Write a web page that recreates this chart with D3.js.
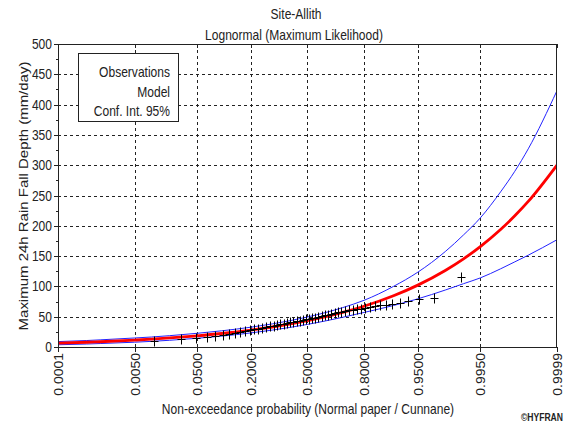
<!DOCTYPE html>
<html><head><meta charset="utf-8">
<script src="https://cdn.jsdelivr.net/npm/d3@7"></script>
<style>
html,body{margin:0;padding:0;background:#fff;}
svg text{font-family:"Liberation Sans",Arial,sans-serif;fill:#222;}
</style></head>
<body><svg id="c" width="568" height="423"></svg>
<script>
// ---- data ----
const title1 = "Site-Allith";
const title2 = "Lognormal (Maximum Likelihood)";
const xTitle = "Non-exceedance probability (Normal paper / Cunnane)";
const yTitle = "Maximum 24h Rain Fall Depth (mm/day)";
const legendItems = ["Observations", "Model", "Conf. Int. 95%"];
const probTicks = [0.0001, 0.005, 0.05, 0.2, 0.5, 0.8, 0.95, 0.995, 0.9999];
const probTickLabels = ["0.0001","0.0050","0.0500","0.2000","0.5000","0.8000","0.9500","0.9950","0.9999"];
const yTicks = [0,50,100,150,200,250,300,350,400,450,500];
// curve probabilities and values
const curveProb = [0.0001,0.0005,0.001,0.005,0.01,0.02,0.05,0.1,0.2,0.3,0.5,0.7,0.8,0.9,0.95,0.98,0.99,0.995,0.998,0.999,0.9995,0.9999];
const modelQ  = [6.3,7.8,8.7,11.4,12.9,14.9,18.5,22.3,28.0,33.0,43.4,57.0,67.2,84.5,102.1,126.3,145.5,165.7,193.9,216.5,240.2,300.2];
const lowerQ  = [3.7,4.9,5.7,7.9,9.3,11.1,14.4,17.9,23.3,27.9,37.3,49.0,57.0,68.5,79.5,94.0,104.5,114.0,129.0,140.5,151.5,177.0];
const upperQ  = [8.9,10.7,11.8,14.9,16.5,18.7,22.6,26.7,32.7,38.1,49.5,65.0,77.0,100.0,123.5,157.5,185.0,213.0,256.0,290.0,327.0,423.0];
// observations (sorted), plotted with Cunnane positions
const observations = [10,12.5,14.5,16,18,20,21.5,23,24.5,26,27.5,29,30.5,31.5,33,34,35,36,37.5,38.5,
  39.5,40.5,41.5,42.5,43.5,44.5,45.5,46.5,47.5,48.5,49.5,50.5,52,53,54.5,56,57,58.5,59.5,60.5,
  61.5,62.5,63.5,65,66,67,68.5,70,71,73,76,79,81,115];

// ---- helpers ----
function probit(p){ // Acklam inverse normal
  const a=[-3.969683028665376e+01,2.209460984245205e+02,-2.759285104469687e+02,1.383577518672690e+02,-3.066479806614716e+01,2.506628277459239e+00];
  const b=[-5.447609879822406e+01,1.615858368580409e+02,-1.556989798598866e+02,6.680131188771972e+01,-1.328068155288572e+01];
  const c=[-7.784894002430293e-03,-3.223964580411365e-01,-2.400758277161838e+00,-2.549732539343734e+00,4.374664141464968e+00,2.938163982698783e+00];
  const d=[7.784695709041462e-03,3.224671290700398e-01,2.445134137142996e+00,3.754408661907416e+00];
  const pl=0.02425, ph=1-pl; let q,r;
  if(p<pl){q=Math.sqrt(-2*Math.log(p));return (((((c[0]*q+c[1])*q+c[2])*q+c[3])*q+c[4])*q+c[5])/((((d[0]*q+d[1])*q+d[2])*q+d[3])*q+1);}
  if(p<=ph){q=p-0.5;r=q*q;return (((((a[0]*r+a[1])*r+a[2])*r+a[3])*r+a[4])*r+a[5])*q/(((((b[0]*r+b[1])*r+b[2])*r+b[3])*r+b[4])*r+1);}
  q=Math.sqrt(-2*Math.log(1-p));return -(((((c[0]*q+c[1])*q+c[2])*q+c[3])*q+c[4])*q+c[5])/((((d[0]*q+d[1])*q+d[2])*q+d[3])*q+1);
}
const SX = 0.86;
const svg = d3.select("#c");
function txt(x,y,s,o={}){
  const t = svg.append("text")
    .attr("transform",`translate(${x},${y}) scale(${SX},1)`+(o.rot?` rotate(${o.rot})`:""))
    .attr("text-anchor",o.anchor||"middle")
    .style("font-size",(o.size||14)+"px")
    .text(s);
  if(o.dy) t.attr("dy",o.dy);
  if(o.weight) t.style("font-weight",o.weight);
  return t;
}

// ---- layout ----
const L=58, R=557, T=44, B=347;
const zScale = d3.scaleLinear().domain([probit(0.0001), probit(0.9999)]).range([L,R]);
const x = p => zScale(probit(p));
const y = d3.scaleLinear().domain([0,500]).range([B,T]);

// grid
const grid = svg.append("g").attr("stroke","#222").attr("stroke-width",1).attr("stroke-dasharray","3,3");
yTicks.filter(v=>v>0&&v<500).forEach(v=>{
  grid.append("line").attr("x1",L).attr("x2",R).attr("y1",Math.round(y(v))+0.5).attr("y2",Math.round(y(v))+0.5);
});
probTicks.slice(1,-1).forEach(p=>{
  const xx=Math.round(x(p))+0.5;
  grid.append("line").attr("x1",xx).attr("x2",xx).attr("y1",T).attr("y2",B);
});

// clip
svg.append("clipPath").attr("id","clip").append("rect").attr("x",L).attr("y",T).attr("width",R-L).attr("height",B-T);
const plot = svg.append("g").attr("clip-path","url(#clip)");

const line = arr => d3.line().x((d,i)=>x(curveProb[i])).y(d=>y(d)).curve(d3.curveMonotoneX)(arr);
plot.append("path").attr("d",line(lowerQ)).attr("fill","none").attr("stroke","#2323ff").attr("stroke-width",1);
plot.append("path").attr("d",line(upperQ)).attr("fill","none").attr("stroke","#2323ff").attr("stroke-width",1);
plot.append("path").attr("d",line(modelQ)).attr("fill","none").attr("stroke","#ff0000").attr("stroke-width",2.8);

// observations (Cunnane plotting positions)
const n = observations.length;
const obsG = plot.append("g").attr("stroke","#000").attr("stroke-width",1);
observations.forEach((v,i)=>{
  const p=(i+1-0.4)/(n+0.2);
  const cx=Math.round(x(p))+0.5, cy=Math.round(y(v))+0.5;
  obsG.append("line").attr("x1",cx-4).attr("x2",cx+4).attr("y1",cy).attr("y2",cy);
  obsG.append("line").attr("x1",cx).attr("x2",cx).attr("y1",cy-5).attr("y2",cy+5);
});

// frame
const ax = svg.append("g").attr("stroke","#222").attr("stroke-width",1);
ax.append("rect").attr("x",L+0.5).attr("y",T+0.5).attr("width",R-L-1).attr("height",B-T).attr("fill","none");
// y ticks
yTicks.forEach(v=>{
  const yy=Math.round(y(v))+0.5;
  ax.append("line").attr("x1",L-4).attr("x2",L).attr("y1",yy).attr("y2",yy);
  txt(52,yy,String(v),{anchor:"end",dy:"0.35em"});
});
d3.range(25,500,50).forEach(v=>{
  const yy=Math.round(y(v))+0.5;
  ax.append("line").attr("x1",L-2).attr("x2",L).attr("y1",yy).attr("y2",yy);
});
// x ticks
probTicks.forEach((p,i)=>{
  const xx=Math.round(x(p))+0.5;
  ax.append("line").attr("x1",xx).attr("x2",xx).attr("y1",B).attr("y2",B+5);
  ax.append("line").attr("x1",xx).attr("x2",xx).attr("y1",T).attr("y2",T+4);
  txt(xx,B+6,probTickLabels[i],{anchor:"end",rot:-90,dy:"0.35em"});
});

// legend
svg.append("rect").attr("x",78.5).attr("y",53.5).attr("width",100).attr("height",68).attr("fill","#fff").attr("stroke","#222");
legendItems.forEach((s,i)=>txt(170,77+i*19.5,s,{anchor:"end"}));

// titles
txt(296,19,title1);
txt(294,40,title2);
txt(308,414,xTitle);
txt(28,196,yTitle,{rot:-90,size:15});
txt(563,421,"©HYFRAN",{anchor:"end",size:10,weight:"bold"});
</script></body></html>
